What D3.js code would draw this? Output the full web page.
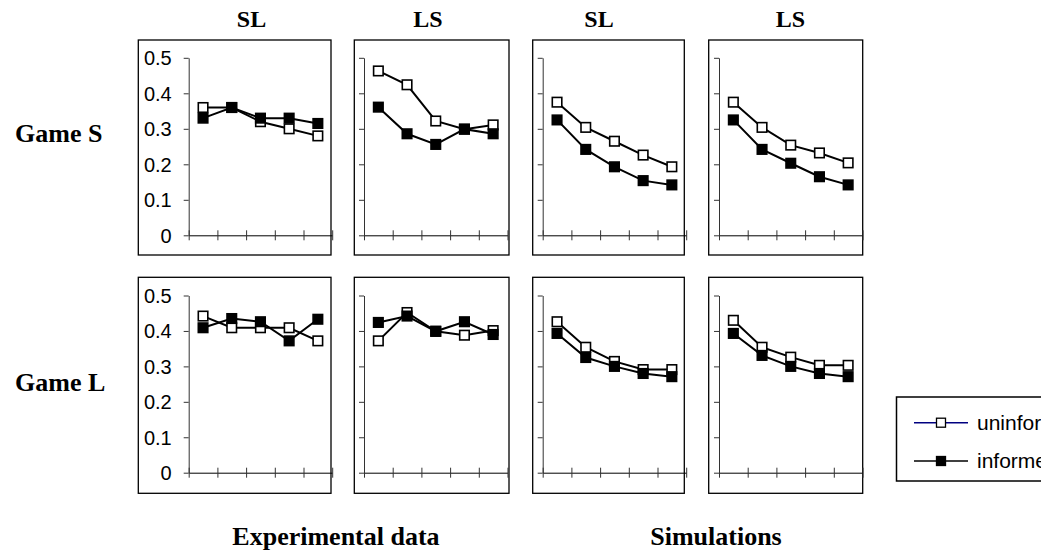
<!DOCTYPE html>
<html><head><meta charset="utf-8">
<script src="https://cdn.jsdelivr.net/npm/d3@7"></script>
<style>
html,body{margin:0;padding:0;background:#fff;}
svg{display:block;}
.bold{font-family:"Liberation Serif","Times New Roman",serif;font-weight:bold;font-size:26px;fill:#000;}
.ctitle{font-family:"Liberation Serif","Times New Roman",serif;font-weight:bold;font-size:24px;fill:#000;}
.tick text{font-family:"Liberation Sans",Arial,sans-serif;font-size:20px;fill:#000;}
.leg{font-family:"Liberation Sans",Arial,sans-serif;font-size:21px;fill:#000;}
</style></head>
<body>
<svg id="c" width="1041" height="558"></svg>
<script>
// ---- data ----
const periods = [1, 2, 3, 4, 5];
const yTicks = [0, 0.1, 0.2, 0.3, 0.4, 0.5];
const columnTitles = ["SL", "LS", "SL", "LS"];
const rowTitles = ["Game S", "Game L"];
const groupTitles = ["Experimental data", "Simulations"];
const seriesNames = ["uninformed", "informed"];

// Game S
const expSL_S_uninformed = [0.36, 0.36, 0.32, 0.30, 0.28];
const expSL_S_informed   = [0.33, 0.36, 0.33, 0.33, 0.315];
const expLS_S_uninformed = [0.463, 0.424, 0.322, 0.299, 0.311];
const expLS_S_informed   = [0.361, 0.286, 0.256, 0.299, 0.286];
const simSL_S_uninformed = [0.375, 0.304, 0.265, 0.226, 0.193];
const simSL_S_informed   = [0.325, 0.242, 0.193, 0.154, 0.142];
const simLS_S_uninformed = [0.375, 0.304, 0.254, 0.232, 0.204];
const simLS_S_informed   = [0.325, 0.242, 0.203, 0.165, 0.142];
// Game L
const expSL_L_uninformed = [0.442, 0.409, 0.409, 0.409, 0.372];
const expSL_L_informed   = [0.409, 0.435, 0.426, 0.372, 0.433];
const expLS_L_uninformed = [0.372, 0.452, 0.399, 0.388, 0.401];
const expLS_L_informed   = [0.424, 0.442, 0.399, 0.426, 0.390];
const simSL_L_uninformed = [0.426, 0.354, 0.314, 0.291, 0.291];
const simSL_L_informed   = [0.393, 0.325, 0.300, 0.280, 0.271];
const simLS_L_uninformed = [0.430, 0.354, 0.326, 0.303, 0.303];
const simLS_L_informed   = [0.393, 0.331, 0.300, 0.280, 0.271];

const panelData = [
  [[expSL_S_uninformed, expSL_S_informed], [expLS_S_uninformed, expLS_S_informed],
   [simSL_S_uninformed, simSL_S_informed], [simLS_S_uninformed, simLS_S_informed]],
  [[expSL_L_uninformed, expSL_L_informed], [expLS_L_uninformed, expLS_L_informed],
   [simSL_L_uninformed, simSL_L_informed], [simLS_L_uninformed, simLS_L_informed]]
];

// ---- layout ----
const svg = d3.select("#c");
const colAxisX = [188.7, 364, 542.7, 719];
const colFrameL = [138.3, 354.3, 532.7, 708.7];
const colFrameR = [331, 509, 684.3, 862.7];
const plotW = 143.5;
const rowFrameT = [40, 277.3];
const rowFrameB = [255, 493.3];
const rowY0 = [235.3, 472.7];
const rowY5 = [57.8, 295.5];
const titleX = [251.5, 428, 599, 790.5];

columnTitles.forEach((t, i) => {
  svg.append("text").attr("class", "ctitle").attr("x", titleX[i]).attr("y", 27)
    .attr("text-anchor", "middle").text(t);
});
const rowLabelY = [141.7, 390.7];
rowTitles.forEach((t, r) => {
  svg.append("text").attr("class", "bold").attr("x", 15).attr("y", rowLabelY[r]).text(t);
});
const groupX = [336, 716];
groupTitles.forEach((t, i) => {
  svg.append("text").attr("class", "bold").attr("x", groupX[i]).attr("y", 545)
    .attr("text-anchor", "middle").text(t);
});

const line = (x, y) => d3.line().x((d, i) => x(i + 0.5)).y(d => y(d));

for (let r = 0; r < 2; r++) {
  for (let c = 0; c < 4; c++) {
    const g = svg.append("g");
    g.append("rect")
      .attr("x", colFrameL[c]).attr("y", rowFrameT[r])
      .attr("width", colFrameR[c] - colFrameL[c]).attr("height", rowFrameB[r] - rowFrameT[r])
      .attr("fill", "none").attr("stroke", "#000").attr("stroke-width", 1.3);

    const x = d3.scaleLinear().domain([0, periods.length]).range([colAxisX[c], colAxisX[c] + plotW]);
    const y = d3.scaleLinear().domain([0, 0.5]).range([rowY0[r], rowY5[r]]);

    const ya = g.append("g").attr("transform", `translate(${colAxisX[c]},0)`)
      .call(d3.axisLeft(y).tickValues(yTicks).tickSize(5).tickSizeOuter(0).tickPadding(12)
        .tickFormat(c === 0 ? (d => d === 0 ? "0" : d3.format(".1f")(d)) : ""));
    ya.select(".domain").attr("stroke", "#333");
    ya.selectAll(".tick line").attr("stroke", "#333");
    ya.selectAll(".tick text").attr("dy", "0.35em");

    const xa = g.append("g").attr("transform", `translate(0,${rowY0[r]})`)
      .call(d3.axisBottom(x).tickValues(d3.range(0, periods.length + 1)).tickSize(5).tickSizeOuter(0).tickFormat(""));
    xa.select(".domain").attr("stroke", "#000");
    xa.selectAll(".tick line").attr("y1", -5).attr("y2", 5).attr("stroke", "#333");

    const [un, inf] = panelData[r][c];
    [inf, un].forEach((vals) => {
      g.append("path").datum(vals).attr("d", line(x, y)).attr("fill", "none")
        .attr("stroke", "#000").attr("stroke-width", 2);
    });
    const sq = 9.5;
    [[un, "#fff"], [inf, "#000"]].forEach(([vals, fill]) => {
      g.selectAll(null).data(vals).enter().append("rect")
        .attr("x", (d, i) => x(i + 0.5) - sq / 2).attr("y", d => y(d) - sq / 2)
        .attr("width", sq).attr("height", sq)
        .attr("fill", fill).attr("stroke", "#000").attr("stroke-width", 1.6);
    });
  }
}

// legend
const lg = svg.append("g");
lg.append("rect").attr("x", 896.5).attr("y", 397).attr("width", 160).attr("height", 84)
  .attr("fill", "#fff").attr("stroke", "#000").attr("stroke-width", 1.5);
const legY = [422.7, 461];
const legColors = ["#000080", "#000"];
const legFill = ["#fff", "#000"];
seriesNames.forEach((s, i) => {
  lg.append("line").attr("x1", 914).attr("x2", 968).attr("y1", legY[i]).attr("y2", legY[i])
    .attr("stroke", legColors[i]).attr("stroke-width", 1.5);
  lg.append("rect").attr("x", 941 - 4.5).attr("y", legY[i] - 4.5).attr("width", 9).attr("height", 9)
    .attr("fill", legFill[i]).attr("stroke", "#000").attr("stroke-width", 1.3);
  lg.append("text").attr("class", "leg").attr("x", 977).attr("y", legY[i]).attr("dy", "0.35em").text(s);
});
</script>
</body></html>
